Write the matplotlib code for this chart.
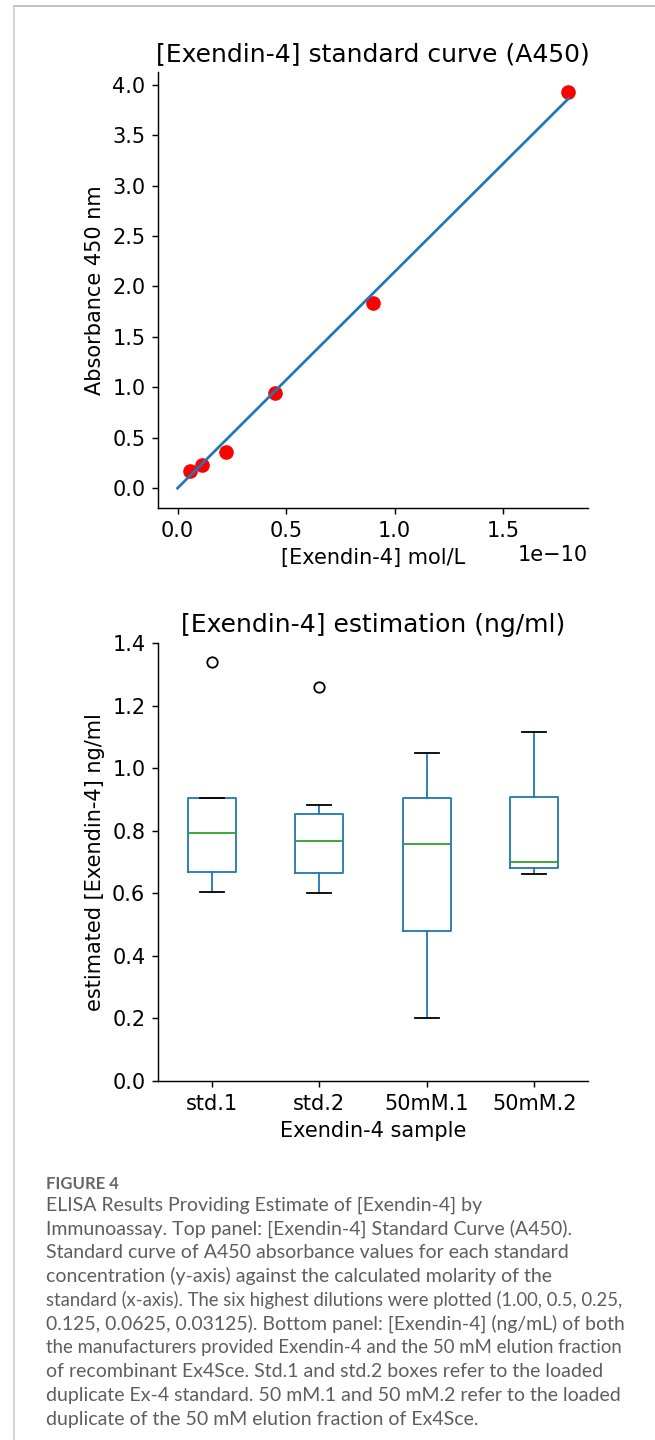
import matplotlib

matplotlib.use("Agg")

import matplotlib.pyplot as plt
import numpy as np
from matplotlib.lines import Line2D

# ---- data -------------------------------------------------------------
# standard curve: molarity of the six highest dilutions and their A450
std_conc = [1.8e-10, 0.9e-10, 0.45e-10, 0.225e-10, 0.1125e-10, 0.05625e-10]
std_a450 = [3.93, 1.84, 0.94, 0.36, 0.23, 0.17]
conc_ticks = [0.0, 0.5e-10, 1.0e-10, 1.5e-10]

# box plot summary per sample (ng/ml)
samples = ["std.1", "std.2", "50mM.1", "50mM.2"]
whisker_lo = [0.603, 0.602, 0.200, 0.663]
q1 = [0.669, 0.664, 0.478, 0.681]
median = [0.793, 0.766, 0.758, 0.700]
q3 = [0.906, 0.853, 0.905, 0.908]
whisker_hi = [0.906, 0.881, 1.050, 1.117]
outliers = [[1.338], [1.258], [], []]

caption_head = "FIGURE 4"
caption_lines = [
    "ELISA Results Providing Estimate of [Exendin-4] by",
    "Immunoassay. Top panel: [Exendin-4] Standard Curve (A450).",
    "Standard curve of A450 absorbance values for each standard",
    "concentration (y-axis) against the calculated molarity of the",
    "standard (x-axis). The six highest dilutions were plotted (1.00, 0.5, 0.25,",
    "0.125, 0.0625, 0.03125). Bottom panel: [Exendin-4] (ng/mL) of both",
    "the manufacturers provided Exendin-4 and the 50 mM elution fraction",
    "of recombinant Ex4Sce. Std.1 and std.2 boxes refer to the loaded",
    "duplicate Ex-4 standard. 50 mM.1 and 50 mM.2 refer to the loaded",
    "duplicate of the 50 mM elution fraction of Ex4Sce.",
]

# ---- style ------------------------------------------------------------
S = 1.5   # source figure text was rendered larger than default
L = 1.3   # line scale
plt.rcParams.update({
    "font.family": "DejaVu Sans",
    "font.size": 10 * S,
    "axes.titlesize": 12 * S,
    "axes.labelsize": 10 * S,
    "xtick.labelsize": 10 * S,
    "ytick.labelsize": 10 * S,
    "axes.linewidth": 0.8 * L,
    "xtick.major.width": 0.8 * L,
    "ytick.major.width": 0.8 * L,
    "xtick.major.size": 3.5 * L,
    "ytick.major.size": 3.5 * L,
    "xtick.major.pad": 3.5 * L,
    "ytick.major.pad": 3.5 * L,
    "axes.titlepad": 6 * L,
    "axes.labelpad": 4 * L,
})

W, H = 655, 1440
fig = plt.figure(figsize=(W / 100, H / 100), dpi=100)
fig.patch.set_facecolor("white")


def px_axes(left, top, right, bottom):
    return fig.add_axes([left / W, 1 - bottom / H, (right - left) / W, (bottom - top) / H])


# page frame lines (journal layout)
fig.add_artist(Line2D([14 / W, 1], [1 - 6 / H] * 2, color="#bdbdbd", lw=1.3))
fig.add_artist(Line2D([14 / W] * 2, [0, 1 - 6 / H], color="#d0d0d0", lw=1.3))

# ---- top: standard curve ---------------------------------------------
ax1 = px_axes(158, 72, 588, 508)
x = np.array(std_conc)
y = np.array(std_a450)
slope = np.sum(x * y) / np.sum(x * x)
fit_x = np.array([0.0, x.max()])
ax1.plot(fit_x, slope * fit_x, color="#1f77b4", lw=1.5 * L, zorder=3)
ax1.plot(x, y, "o", color="red", markersize=9.5, zorder=2)
ax1.set_title("[Exendin-4] standard curve (A450)")
ax1.set_xlabel("[Exendin-4] mol/L")
ax1.set_ylabel("Absorbance 450 nm")
ax1.set_xticks(conc_ticks)
ax1.set_yticks(np.arange(0, 4.01, 0.5))
for side in ("top", "right"):
    ax1.spines[side].set_visible(False)

# ---- bottom: estimation boxes ----------------------------------------
ax2 = px_axes(158, 643, 588, 1081)
stats = [
    {"label": s, "whislo": a, "q1": b, "med": c, "q3": d, "whishi": e, "fliers": f}
    for s, a, b, c, d, e, f in zip(samples, whisker_lo, q1, median, q3, whisker_hi, outliers)
]
blue = "#1f77b4"
ax2.bxp(
    stats,
    positions=range(1, len(samples) + 1),
    widths=0.45,
    boxprops={"color": blue, "linewidth": 1.0 * L},
    whiskerprops={"color": blue, "linewidth": 1.0 * L},
    capprops={"color": "black", "linewidth": 1.0 * L},
    medianprops={"color": "#2ca02c", "linewidth": 1.0 * L},
    flierprops={"marker": "o", "markerfacecolor": "none", "markeredgecolor": "black",
                "markersize": 7.5, "markeredgewidth": 1.0 * L},
)
ax2.set_xlim(0.5, 4.5)
ax2.set_ylim(0, 1.4)
ax2.set_title("[Exendin-4] estimation (ng/ml)")
ax2.set_xlabel("Exendin-4 sample")
ax2.set_ylabel("estimated [Exendin-4] ng/ml")
for side in ("top", "right"):
    ax2.spines[side].set_visible(False)

# ---- caption ----------------------------------------------------------
cap_color = "#5e5e5e"
fig.text(46 / W, 1 - 1184 / H, caption_head, family="Lato", weight="bold",
         fontsize=12, color="#666666", va="center", ha="left")
renderer = fig.canvas.get_renderer()
max_w = 580
for i, line in enumerate(caption_lines):
    t = fig.text(46 / W, 1 - (1205 + 23.8 * i) / H, line, family="Lato",
                 fontsize=14, color=cap_color, va="center", ha="left")
    w = t.get_window_extent(renderer).width
    if w > max_w:
        t.set_fontsize(14 * max_w / w)

fig.savefig("out.png", dpi=100, facecolor="white")
